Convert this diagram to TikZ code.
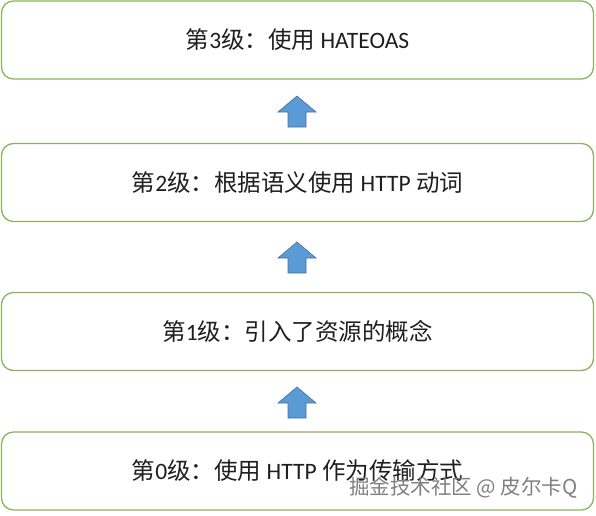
\documentclass[tikz,border=0pt]{standalone}
\usepackage{fontspec}
\setmainfont{Carlito}
\newfontfamily\cjk{Noto Sans CJK SC}
\definecolor{boxgreen}{HTML}{8DB360}
\definecolor{arrowfill}{HTML}{5B9BD5}
\definecolor{arrowline}{HTML}{41719C}
\definecolor{wmgray}{HTML}{808080}
\tikzset{
  levelbox/.style={draw=boxgreen, line width=1.3pt, rounded corners=12pt, fill=white,
    minimum width=592pt, minimum height=78pt, inner sep=0pt,
    font=\fontsize{23.5}{28}\selectfont, text=black!88},
  uparrow/.pic={\draw[fill=arrowfill, draw=arrowline, line width=0.6pt]
    (0,-15.5) -- (19,0.5) -- (9,0.5) -- (9,15.5) -- (-9,15.5) -- (-9,0.5) -- (-19,0.5) -- cycle;},
  watermark/.style={font=\cjk\fontsize{20.5}{24}\selectfont, text=wmgray}
}
\begin{document}
\begin{tikzpicture}[x=1pt,y=-1pt]
\useasboundingbox (0,0) rectangle (596,515);
\node[levelbox] (l3) at (297.5,40) {{\cjk 第}3{\cjk 级：使用} HATEOAS};
\node[levelbox] (l2) at (297.5,182.5) {{\cjk 第}2{\cjk 级：根据语义使用} HTTP {\cjk 动词}};
\node[levelbox] (l1) at (297.5,331.5) {{\cjk 第}1{\cjk 级：引入了资源的概念}};
\node[levelbox] (l0) at (297.5,471) {{\cjk 第}0{\cjk 级：使用} HTTP {\cjk 作为传输方式}};
\coordinate (a1) at (297,111.5);
\coordinate (a2) at (297,257.5);
\coordinate (a3) at (297,402.5);
\pic at (a1) {uparrow};
\pic at (a2) {uparrow};
\pic at (a3) {uparrow};
\node[watermark, anchor=east] (wm) at (581,488) {掘金技术社区 @ 皮尔卡Q};
\end{tikzpicture}
\end{document}
